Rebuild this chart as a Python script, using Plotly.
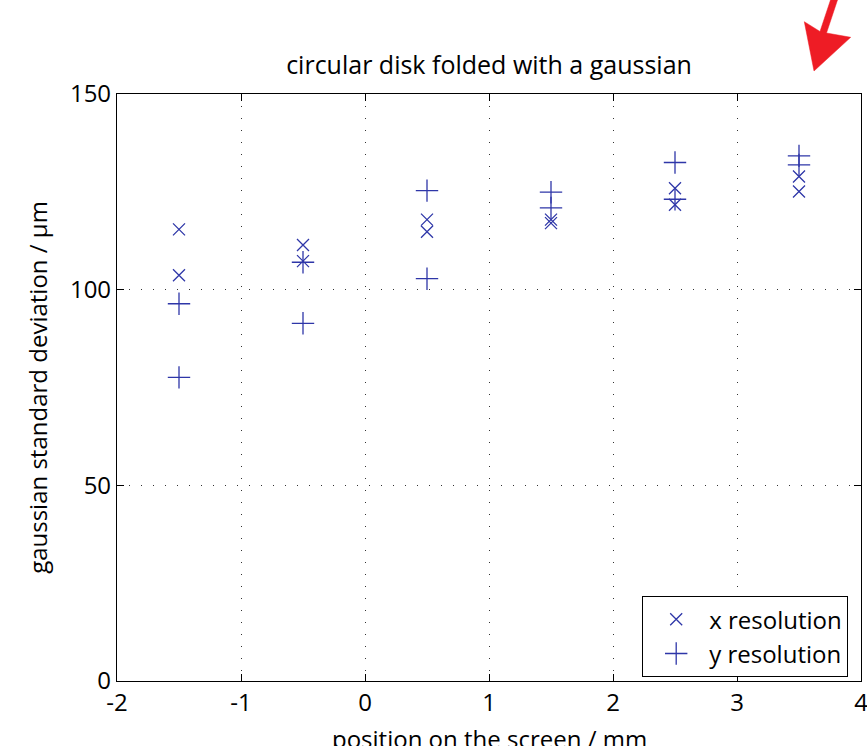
import plotly.graph_objects as go

# Data
positions = [-1.5, -0.5, 0.5, 1.5, 2.5, 3.5]
x_res_a = [115.4, 111.4, 117.9, 117.9, 125.9, 128.9]
x_res_b = [103.7, 107.3, 114.8, 117.0, 121.7, 125.1]
y_res_a = [96.4, 107.0, 125.3, 124.9, 132.5, 134.2]
y_res_b = [77.6, 91.4, 102.8, 120.9, 123.1, 131.9]

x_ticks = [-2, -1, 0, 1, 2, 3, 4]
y_ticks = [0, 50, 100, 150]

FONT = "Open Sans"
BLUE = "#2e36a8"

L, R, T, B = 117, 6, 94, 65
W, H = 867, 746
PW, PH = W - L - R, H - T - B


def px(x):
    return (x - L) / PW


def py(y):
    return (H - B - y) / PH


fig = go.Figure()
fig.add_trace(go.Scatter(
    x=positions + positions, y=x_res_a + x_res_b, mode="markers",
    name="x resolution",
    marker=dict(symbol="x-thin", size=12, color=BLUE,
                line=dict(color=BLUE, width=1.3)),
))
fig.add_trace(go.Scatter(
    x=positions + positions, y=y_res_a + y_res_b, mode="markers",
    name="y resolution",
    marker=dict(symbol="cross-thin", size=16, color=BLUE,
                line=dict(color=BLUE, width=1.3)),
))

axis_common = dict(
    showline=True, linecolor="black", linewidth=1.2, mirror="allticks",
    ticks="inside", ticklen=7, tickcolor="black", tickwidth=1,
    showgrid=True, gridcolor="#333333", gridwidth=1, griddash="1px,11px",
    zeroline=False, tickfont=dict(family=FONT, size=24, color="black"),
    ticklabeloverflow="allow",
)

fig.update_xaxes(range=[-2, 4], tickvals=x_ticks, ticktext=[str(v) for v in x_ticks],
                 **axis_common)
fig.update_yaxes(range=[0, 150], tickvals=y_ticks, ticktext=[str(v) for v in y_ticks],
                 title=dict(text="gaussian standard deviation / µm",
                            font=dict(family=FONT, size=24, color="black")),
                 **axis_common)

# x-axis title, placed low like in the reference (partly cut by the page edge)
fig.add_annotation(text="position on the screen / mm", xref="paper", yref="paper",
                   x=0.5, y=py(738), xanchor="center", yanchor="middle",
                   showarrow=False, font=dict(family=FONT, size=24, color="black"))

# red arrow in the top-right corner
arrow = [(830.5, 0), (837.5, 0), (826.5, 33), (850.7, 37.3), (814, 71),
         (804.3, 21.7), (820, 31.5)]
path = "M " + " L ".join(f"{px(a):.5f},{py(b):.5f}" for a, b in arrow) + " Z"
fig.add_shape(type="path", xref="paper", yref="paper", path=path,
              fillcolor="#ee1c25", line=dict(color="#ee1c25", width=0.5),
              layer="above")

fig.update_layout(
    width=W, height=H,
    margin=dict(l=L, r=R, t=T, b=B, autoexpand=False),
    paper_bgcolor="white", plot_bgcolor="white",
    title=dict(text="circular disk folded with a gaussian", x=(L + PW / 2) / W,
               xanchor="center", y=1 - 65 / H, yanchor="middle",
               font=dict(family=FONT, size=25, color="black")),
    legend=dict(x=(848 - L) / PW, xanchor="right", y=py(677), yanchor="bottom",
                bordercolor="black", borderwidth=1.2, bgcolor="white",
                font=dict(family=FONT, size=24, color="black"),
                itemwidth=56, tracegroupgap=0),
    showlegend=True,
)

fig.write_html("out.html")
